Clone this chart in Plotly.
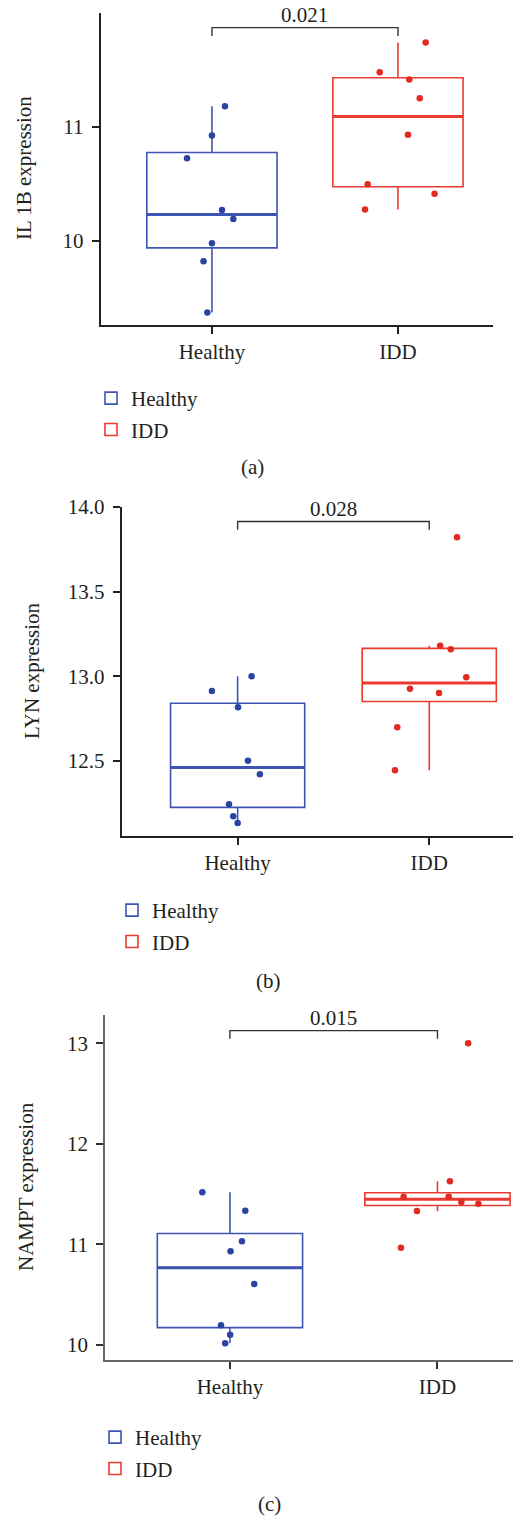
import numpy as np
import plotly.graph_objects as go

# ---------------- data ----------------
categories = ["Healthy", "IDD"]

il1b_healthy = [11.18, 10.925, 10.725, 10.27, 10.19, 9.977, 9.82, 9.37]
il1b_idd = [11.74, 11.48, 11.416, 11.252, 10.93, 10.495, 10.412, 10.275]
lyn_healthy = [13.0, 12.914, 12.817, 12.502, 12.421, 12.244, 12.173, 12.134]
lyn_idd = [13.822, 13.18, 13.16, 12.995, 12.926, 12.902, 12.699, 12.445]
nampt_healthy = [11.516, 11.333, 11.03, 10.929, 10.604, 10.193, 10.1, 10.014]
nampt_idd = [12.999, 11.626, 11.473, 11.473, 11.42, 11.403, 11.33, 10.965]

# horizontal jitter of each point (category units)
il1b_healthy_jitter = [0.07, 0.0, -0.134, 0.054, 0.115, 0.0, -0.045, -0.025]
il1b_idd_jitter = [0.149, -0.098, 0.061, 0.117, 0.054, -0.163, 0.197, -0.177]
lyn_healthy_jitter = [0.073, -0.134, 0.002, 0.054, 0.116, -0.045, -0.023, 0.0]
lyn_idd_jitter = [0.145, 0.057, 0.112, 0.193, -0.101, 0.051, -0.167, -0.179]
nampt_healthy_jitter = [-0.133, 0.074, 0.058, 0.003, 0.117, -0.043, 0.001, -0.023]
nampt_idd_jitter = [0.148, 0.06, -0.163, 0.054, 0.115, 0.197, -0.099, -0.176]

p_values = ["0.021", "0.028", "0.015"]
y_titles = ["IL 1B expression", "LYN expression", "NAMPT expression"]
captions = ["(a)", "(b)", "(c)"]
y_ticks_a = [10, 11]
y_ticks_b = [12.5, 13.0, 13.5, 14.0]
y_ticks_c = [10, 11, 12, 13]

# ---------------- style ----------------
W, H = 513, 1516
FONT = "Liberation Serif, Times New Roman, serif"
TXT = "#231f20"
BLUE_LINE, BLUE_PT = "#3d55b2", "#2b43a3"
RED_LINE, RED_PT = "#ea3b30", "#e12a22"
FS = 21


def px_x(p):
    return p / W


def px_y(p):
    return 1 - p / H


panels = [
    dict(h=il1b_healthy, i=il1b_idd, hj=il1b_healthy_jitter, ij=il1b_idd_jitter,
         xdom=[px_x(100.7), px_x(493)], ydom=[px_y(325), px_y(13)],
         xr=[-0.598, 1.511], yr=[9.26, 12.0], ticks=y_ticks_a, tfmt="{:.0f}",
         axcol="#222222", tickcol="#222222",
         br=(0.132, 0.058, 0.24),
         ytitle_xy=(24, 168), leg_xy=(91, 378), cap_xy=(252, 467)),
    dict(h=lyn_healthy, i=lyn_idd, hj=lyn_healthy_jitter, ij=lyn_idd_jitter,
         xdom=[px_x(121.7), 1.0], ydom=[px_y(836), px_y(507)],
         xr=[-0.605, 1.437], yr=[12.057, 14.0], ticks=y_ticks_b, tfmt="{:.1f}",
         axcol="#222222", tickcol="#222222",
         br=(0.092, 0.043, 0.166),
         ytitle_xy=(32, 671), leg_xy=(112, 890), cap_xy=(268, 981)),
    dict(h=nampt_healthy, i=nampt_idd, hj=nampt_healthy_jitter, ij=nampt_idd_jitter,
         xdom=[px_x(105), 1.0], ydom=[px_y(1360), px_y(1015)],
         xr=[-0.602, 1.364], yr=[9.848, 13.28], ticks=y_ticks_c, tfmt="{:.0f}",
         axcol="#666666", tickcol="#333333",
         br=(0.126, 0.044, 0.25),
         ytitle_xy=(26, 1187), leg_xy=(95, 1417), cap_xy=(269.5, 1504)),
]


def box_stats(v):
    a = np.sort(np.asarray(v, dtype=float))
    q1, med, q3 = np.percentile(a, [25, 50, 75])
    iqr = q3 - q1
    lo = a[a >= q1 - 1.5 * iqr].min()
    hi = a[a <= q3 + 1.5 * iqr].max()
    return q1, med, q3, lo, hi


fig = go.Figure()
layout = dict(
    width=W, height=H, margin=dict(l=0, r=0, t=0, b=0, pad=0, autoexpand=False),
    paper_bgcolor="white", plot_bgcolor="white",
    font=dict(family=FONT, size=FS, color=TXT),
    annotations=[], shapes=[],
)

BOX_W = 0.70
for k, p in enumerate(panels):
    n = "" if k == 0 else str(k + 1)
    xa, ya = "x" + n, "y" + n
    leg = "legend" + n
    groups = [(p["h"], p["hj"], BLUE_LINE, BLUE_PT), (p["i"], p["ij"], RED_LINE, RED_PT)]
    for pos, (vals, jit, lc, pc) in enumerate(groups):
        q1, med, q3, lo, hi = box_stats(vals)
        fig.add_trace(go.Box(
            x=[pos], q1=[q1], median=[med], q3=[q3], lowerfence=[lo], upperfence=[hi],
            width=BOX_W, whiskerwidth=0, boxpoints=False,
            line=dict(color=lc, width=1.6), fillcolor="rgba(255,255,255,0)",
            name=categories[pos], xaxis=xa, yaxis=ya, legend=leg,
            legendgroup=f"{k}-{pos}", showlegend=True, hoverinfo="skip",
        ))
        fig.add_trace(go.Scatter(
            x=[pos - BOX_W / 2, pos + BOX_W / 2], y=[med, med], mode="lines",
            line=dict(color=lc, width=3), xaxis=xa, yaxis=ya,
            showlegend=False, hoverinfo="skip",
        ))
        fig.add_trace(go.Scatter(
            x=[pos + j for j in jit], y=vals, mode="markers",
            marker=dict(color=pc, size=6.5), xaxis=xa, yaxis=ya,
            showlegend=False, hoverinfo="skip",
        ))

    layout["xaxis" + n] = dict(
        domain=p["xdom"], anchor=ya, range=p["xr"],
        tickvals=[0, 1], ticktext=categories, ticks="outside", ticklen=7,
        tickwidth=1.6, tickcolor=p["tickcol"], showline=True, linewidth=1.8,
        linecolor=p["axcol"], showgrid=False, zeroline=False,
        tickfont=dict(family=FONT, size=FS, color=TXT), ticklabelstandoff=0,
    )
    layout["yaxis" + n] = dict(
        domain=p["ydom"], anchor=xa, range=p["yr"],
        tickvals=p["ticks"], ticktext=[p["tfmt"].format(t) for t in p["ticks"]],
        ticks="outside", ticklen=7, tickwidth=1.6, tickcolor=p["tickcol"],
        showline=True, linewidth=1.8, linecolor=p["axcol"],
        showgrid=False, zeroline=False,
        tickfont=dict(family=FONT, size=FS, color=TXT), ticklabelstandoff=4,
    )
    layout[leg] = dict(
        x=px_x(p["leg_xy"][0]), xanchor="left", y=px_y(p["leg_xy"][1]), yanchor="top",
        font=dict(family=FONT, size=FS, color=TXT), bgcolor="rgba(0,0,0,0)",
        tracegroupgap=1, orientation="v",
    )

    # significance bracket
    ymax = max(max(p["h"]), max(p["i"]))
    top, drop, txt = (ymax + d for d in p["br"])
    layout["shapes"].append(dict(
        type="path", xref=xa, yref=ya,
        path=f"M 0,{drop} L 0,{top} L 1,{top} L 1,{drop}",
        line=dict(color="#333333", width=1.4),
    ))
    layout["annotations"].append(dict(
        x=0.5, y=txt, xref=xa, yref=ya, text=p_values[k], showarrow=False,
        font=dict(family=FONT, size=FS, color=TXT), yanchor="middle",
    ))
    # y title
    tx, ty = p["ytitle_xy"]
    layout["annotations"].append(dict(
        x=px_x(tx), y=px_y(ty), xref="paper", yref="paper", text=y_titles[k],
        textangle=-90, showarrow=False, xanchor="center", yanchor="middle",
        font=dict(family=FONT, size=FS, color=TXT),
    ))
    # caption
    cx, cy = p["cap_xy"]
    layout["annotations"].append(dict(
        x=px_x(cx), y=px_y(cy), xref="paper", yref="paper", text=captions[k],
        showarrow=False, xanchor="center", yanchor="middle",
        font=dict(family=FONT, size=FS, color=TXT),
    ))

fig.update_layout(**layout)
fig.write_html(
    "out.html",
    config={"displayModeBar": False},
    post_script="document.body.style.margin='0';document.body.style.overflow='hidden';",
)
